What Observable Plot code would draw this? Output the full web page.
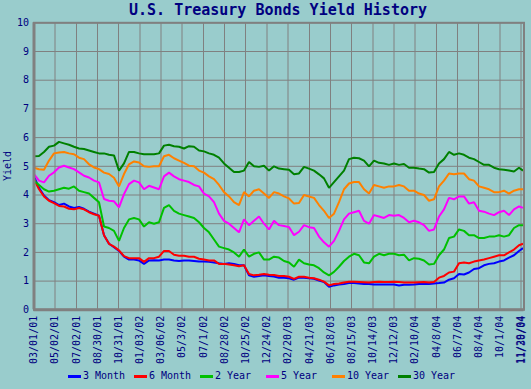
<!DOCTYPE html>
<html><head><meta charset="utf-8">
<script src="https://cdn.jsdelivr.net/npm/d3@7"></script>
<script src="https://cdn.jsdelivr.net/npm/@observablehq/plot@0.6"></script>
<style>
html,body{margin:0;padding:0;background:#99cccc;}
#wrap{position:relative;width:531px;height:389px;overflow:hidden;font-family:"DejaVu Sans Mono",monospace;color:#000080;}
#wrap svg{position:absolute;left:0;top:0;}
#title{position:absolute;left:0;top:3px;width:531px;padding-left:25px;box-sizing:border-box;text-align:center;font-size:15px;font-weight:bold;line-height:15px;white-space:nowrap;}
#ylab{position:absolute;left:8px;top:166px;transform:translate(-50%,-50%) rotate(-90deg);font-size:10px;line-height:10px;white-space:nowrap;}
#legend{position:absolute;left:68px;top:370px;display:flex;font-size:10px;line-height:12px;white-space:nowrap;}
.item{width:66px;display:flex;align-items:center;}
.sw{width:13px;height:3px;margin-right:2px;}
</style>
</head><body>
<div id="wrap">
<div id="title">U.S. Treasury Bonds Yield History</div>
<div id="ylab">Yield</div>
<div id="legend"></div>
</div>
<script>
const seriesNames = ["3 Month","6 Month","2 Year","5 Year","10 Year","30 Year"];
const seriesColors = ["#0000ff","#ff0000","#00c000","#ff00ff","#ff8000","#008000"];

// trading-day index of each sample
const days = [0,10,20,30,40,50,60,70,80,90,100,110,120,130,140,150,160,170,180,190,200,210,220,230,240,
250,260,270,280,290,300,310,320,330,340,350,360,370,380,390,400,410,420,430,440,450,460,470,480,
490,500,510,520,530,540,550,560,570,580,590,600,610,620,630,640,650,660,670,680,690,700,710,720,
730,740,750,760,770,780,790,800,810,820,830,840,850,860,870,880,890,900,910,920,930,940,950,960,970,978];

const m3 = [4.65,4.25,3.98,3.82,3.75,3.65,3.7,3.6,3.55,3.58,3.52,3.42,3.35,3.28,2.6,2.3,2.18,2.05,1.85,1.75,1.75,1.72,1.6,1.72,1.73,
1.72,1.75,1.75,1.72,1.7,1.72,1.72,1.7,1.68,1.68,1.67,1.65,1.62,1.6,1.62,1.6,1.55,1.55,1.2,1.15,1.18,1.2,1.18,1.16,
1.12,1.12,1.1,1.05,1.12,1.12,1.1,1.08,1.02,0.97,0.8,0.85,0.88,0.9,0.93,0.93,0.92,0.9,0.9,0.88,0.88,0.88,0.88,0.88,
0.85,0.87,0.87,0.88,0.9,0.9,0.9,0.92,0.93,0.95,1.05,1.1,1.25,1.23,1.3,1.42,1.45,1.55,1.6,1.62,1.68,1.72,1.82,1.9,2.05,2.15];

const m6 = [4.55,4.2,3.95,3.8,3.72,3.62,3.6,3.52,3.5,3.55,3.5,3.4,3.33,3.28,2.6,2.3,2.2,2.07,1.87,1.8,1.8,1.8,1.67,1.8,1.8,
1.85,2.05,2.05,1.92,1.88,1.88,1.85,1.85,1.78,1.75,1.72,1.72,1.6,1.6,1.58,1.55,1.52,1.55,1.25,1.2,1.22,1.25,1.22,1.21,
1.18,1.18,1.15,1.08,1.15,1.15,1.12,1.1,1.05,0.98,0.85,0.9,0.92,0.95,0.98,0.98,0.97,0.96,0.95,0.97,0.98,0.97,0.97,0.98,
0.97,0.95,0.95,0.95,0.96,0.97,0.95,0.97,1.12,1.18,1.3,1.33,1.62,1.65,1.62,1.68,1.72,1.75,1.8,1.85,1.9,1.9,2.0,2.1,2.25,2.3];

const y2 = [4.5,4.35,4.2,4.12,4.15,4.2,4.25,4.22,4.3,4.15,4.1,4.05,3.9,3.75,2.9,2.85,2.75,2.4,2.85,3.15,3.2,3.15,2.9,3.05,3.0,
3.05,3.55,3.65,3.45,3.35,3.3,3.25,3.2,3.05,2.85,2.7,2.45,2.2,2.15,2.1,2.0,1.85,2.1,1.85,1.95,2.0,1.75,1.75,1.85,
1.82,1.7,1.65,1.5,1.75,1.62,1.58,1.55,1.45,1.3,1.2,1.32,1.5,1.7,1.85,1.95,1.9,1.65,1.62,1.85,1.95,1.9,1.95,1.95,
1.9,1.92,1.72,1.8,1.78,1.72,1.58,1.6,1.9,2.1,2.5,2.55,2.8,2.75,2.6,2.6,2.5,2.5,2.55,2.55,2.6,2.55,2.6,2.85,2.95,2.95];

const y5 = [4.73,4.5,4.44,4.67,4.79,4.96,5.02,4.96,4.9,4.79,4.67,4.61,4.5,4.44,3.86,3.8,3.78,3.57,4.03,4.38,4.5,4.44,4.2,4.32,4.26,
4.2,4.65,4.78,4.65,4.55,4.5,4.45,4.35,4.3,4.05,3.95,3.75,3.35,3.1,3.0,2.85,2.7,3.15,2.95,3.1,3.25,3.0,2.8,3.1,
2.95,2.92,2.88,2.6,2.72,2.95,2.88,2.85,2.55,2.35,2.2,2.4,2.75,3.15,3.35,3.4,3.45,3.1,3.0,3.3,3.25,3.2,3.3,3.28,
3.3,3.2,3.05,3.1,3.05,2.95,2.75,2.8,3.25,3.5,3.9,3.85,3.95,3.95,3.7,3.75,3.45,3.42,3.35,3.3,3.4,3.45,3.3,3.5,3.6,3.55];

const y10 = [4.95,4.9,4.88,5.2,5.45,5.48,5.5,5.45,5.42,5.3,5.25,5.07,4.96,4.9,4.78,4.73,4.6,4.3,4.73,5.07,5.17,5.13,5.0,4.98,5.0,
5.0,5.35,5.4,5.28,5.2,5.12,5.02,5.0,4.85,4.78,4.65,4.55,4.35,4.1,3.95,3.75,3.65,4.1,3.95,4.15,4.2,4.05,3.9,4.1,
4.05,3.95,3.88,3.7,3.72,4.0,3.95,3.9,3.65,3.45,3.2,3.35,3.75,4.2,4.4,4.45,4.45,4.2,4.05,4.35,4.3,4.25,4.3,4.3,
4.35,4.3,4.15,4.15,4.05,4.0,3.8,3.85,4.3,4.5,4.75,4.72,4.75,4.75,4.55,4.5,4.3,4.25,4.2,4.1,4.1,4.15,4.05,4.15,4.2,4.2];

const y30 = [5.35,5.36,5.5,5.68,5.72,5.85,5.8,5.75,5.68,5.62,5.6,5.55,5.5,5.45,5.45,5.4,5.38,4.85,5.1,5.5,5.5,5.45,5.42,5.42,5.42,
5.45,5.72,5.75,5.7,5.68,5.62,5.7,5.68,5.55,5.52,5.45,5.4,5.3,5.1,4.95,4.8,4.8,4.85,5.15,5.0,4.98,5.02,4.85,5.0,
4.92,4.9,4.88,4.72,4.75,4.98,4.92,4.85,4.72,4.58,4.25,4.45,4.65,4.85,5.25,5.3,5.28,5.2,5.0,5.2,5.12,5.1,5.05,5.1,
5.05,5.08,4.95,4.95,4.92,4.9,4.78,4.8,5.1,5.25,5.5,5.4,5.45,5.4,5.3,5.25,5.15,5.05,5.05,4.95,4.9,4.88,4.85,4.82,4.95,4.85];

// x-axis tick positions (trading-day index) and their labels
const tickDays = [0,42,85,127,169,212,254,296,339,381,423,466,508,551,593,635,678,720,762,805,847,889,932,974,976];
const tickLabels = ["03/01/01","05/02/01","07/02/01","08/30/01","10/31/01","01/03/02","03/06/02","05/3/02","07/1/02","08/28/02","10/25/02","12/24/02",
"02/20/03","04/21/03","06/18/03","08/15/03","10/14/03","12/12/03","02/10/04","04/8/04","06/7/04","08/4/04","10/1/04","11/29/04","11/30/04"];
const yTicks = [0,1,2,3,4,5,6,7,8,9,10];

const allSeries = [m3, m6, y2, y5, y10, y30];
const data = [];
allSeries.forEach((vals, s) => vals.forEach((v, i) => data.push({day: days[i], value: v, series: seriesNames[s]})));
const labelMap = new Map(tickDays.map((d, i) => [d, tickLabels[i]]));

const lineMarks = seriesNames.map((name, s) =>
  Plot.line(data.filter(d => d.series === name), {x: "day", y: "value", stroke: seriesColors[s], strokeWidth: 2, strokeLinejoin: "miter", strokeLinecap: "butt"})
);

const chart = Plot.plot({
  width: 531, height: 389,
  marginTop: 22.3, marginBottom: 79.7, marginLeft: 33.5, marginRight: 7.5,
  style: {background: "transparent", fontFamily: "DejaVu Sans Mono, monospace", fontSize: "10px", color: "#000080", overflow: "visible"},
  x: {domain: [0, 980]},
  y: {domain: [0, 10]},
  marks: [
    Plot.gridY(yTicks, {stroke: "#808080", strokeOpacity: 1, strokeWidth: 1}),
    Plot.gridX(tickDays.slice(0, -1), {stroke: "#808080", strokeOpacity: 1, strokeWidth: 1}),
    Plot.axisY(yTicks, {tickSize: 0, tickPadding: 5, label: null, fill: "#000080"}),
    Plot.axisX(tickDays, {tickSize: 0, tickRotate: -90, tickPadding: 6, tickFormat: d => labelMap.get(d), label: null, fill: "#000080"}),
    ...lineMarks,
    Plot.frame({stroke: "#808080", strokeWidth: 2}),
    Plot.ruleX([0], {stroke: "#808080", strokeWidth: 3}),
    Plot.ruleY([0], {stroke: "#808080", strokeWidth: 3})
  ]
});
document.getElementById("wrap").appendChild(chart);

const legend = document.getElementById("legend");
seriesNames.forEach((name, s) => {
  const item = document.createElement("div");
  item.className = "item";
  const sw = document.createElement("div");
  sw.className = "sw";
  sw.style.background = seriesColors[s];
  const t = document.createElement("span");
  t.textContent = name;
  item.appendChild(sw); item.appendChild(t);
  legend.appendChild(item);
});
</script>
</body></html>
